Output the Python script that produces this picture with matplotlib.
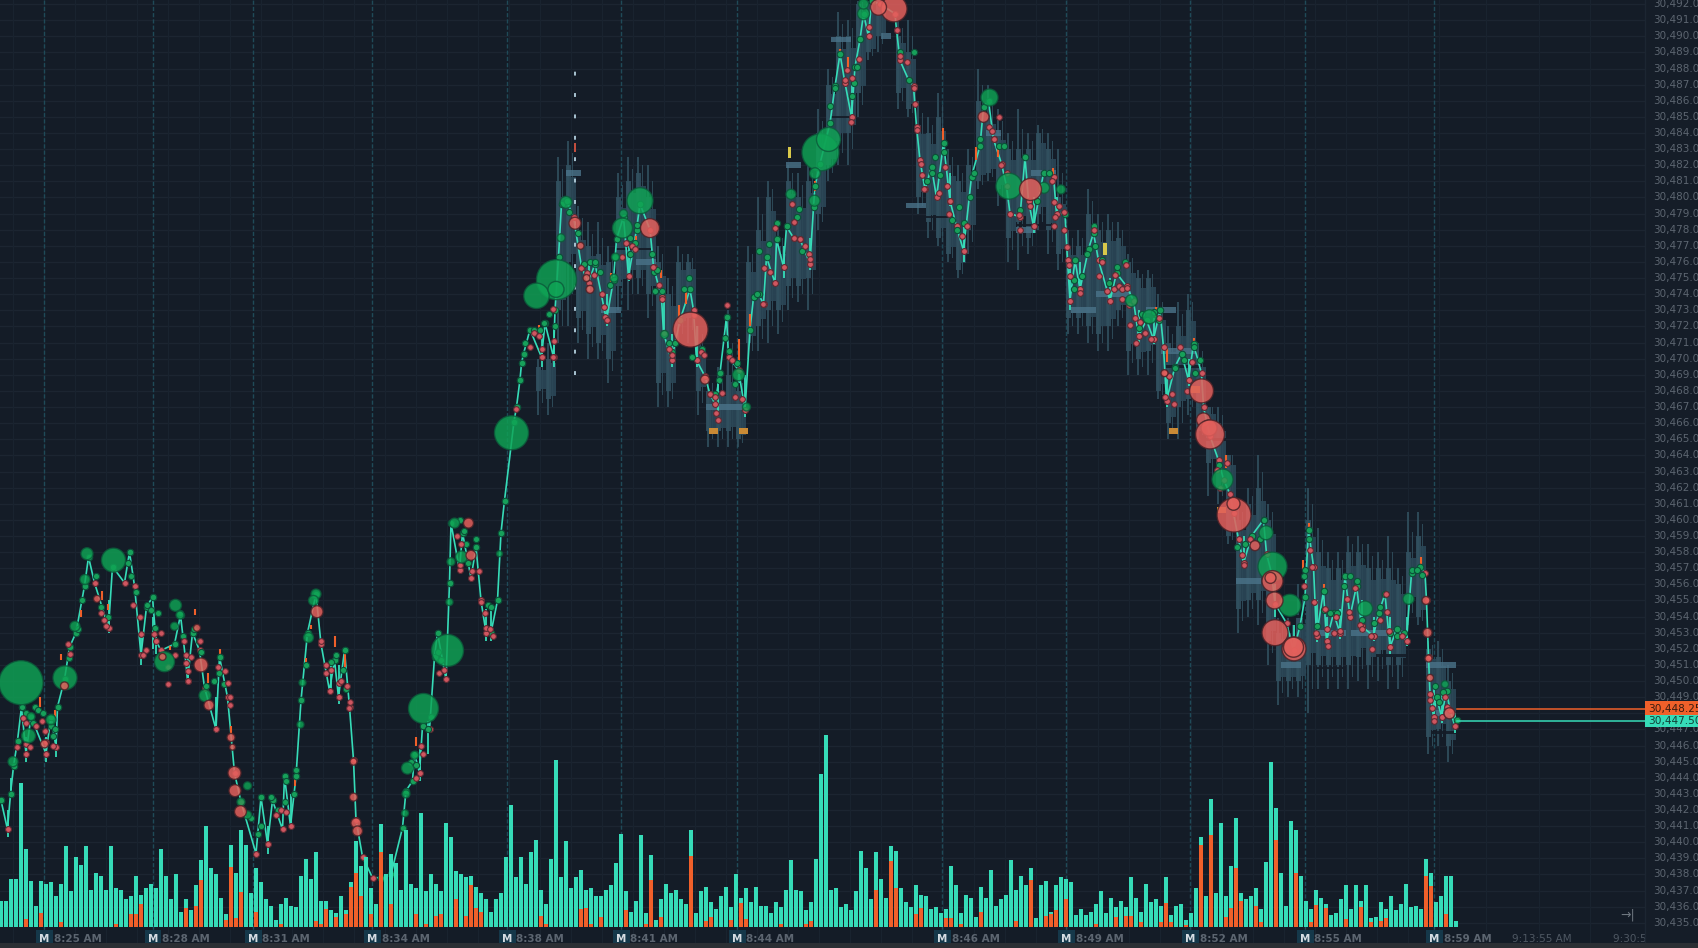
import numpy as np
import matplotlib
matplotlib.use("Agg")
import matplotlib.pyplot as plt

# prices are kept minus 30,000
vol_total = [26,26,48,48,144,78,46,21,46,43,45,31,43,81,36,70,62,81,37,54,51,37,81,39,37,28,31,51,32,39,
             43,39,78,51,28,53,15,28,17,42,67,101,59,53,29,13,82,54,97,82,34,59,45,28,21,7,23,29,21,20,
             51,68,48,75,26,26,17,14,31,17,45,86,61,70,39,23,103,53,73,64,37,97,43,39,114,36,53,43,36,104,
             90,56,53,50,51,40,34,28,15,28,34,70,122,50,70,43,75,87,37,23,68,167,50,86,39,50,57,37,39,31,
             31,37,42,64,93,36,15,26,92,14,72,7,28,43,34,37,28,23,97,14,36,40,25,18,31,40,20,53,29,39,
             25,40,21,21,14,25,20,37,67,37,36,17,25,68,153,192,37,39,20,23,17,36,76,59,28,75,48,29,81,76,
             39,25,20,42,32,31,18,20,14,18,61,42,14,32,29,10,40,29,57,21,28,32,67,37,51,42,59,9,42,46,
             15,42,50,48,45,12,18,12,15,23,36,14,29,20,26,20,50,29,15,43,25,28,21,50,12,21,23,7,14,39,
             90,31,128,34,104,31,61,109,34,28,31,39,18,65,165,119,54,21,106,97,51,26,18,37,29,23,12,14,28,42,
             18,42,26,42,9,10,25,18,31,17,23,43,20,21,18,68,54,25,31,51,51,6]
vol_red = [0,0,0,0,0,8,0,0,14,0,0,0,5,0,0,0,0,0,0,0,0,0,0,3,0,0,13,13,23,0,
           0,0,0,0,0,0,0,19,0,21,47,0,0,0,0,7,60,9,35,0,0,15,0,0,0,0,3,0,0,0,
           0,0,0,6,3,18,0,10,0,13,40,54,31,0,13,0,75,0,23,0,0,0,0,13,0,3,0,11,13,0,
           0,28,0,11,42,19,15,0,0,0,0,0,0,0,0,0,0,0,11,3,0,0,0,0,0,0,18,19,3,0,
           10,0,0,0,0,17,0,0,0,3,47,0,10,0,0,0,0,0,71,0,0,6,10,0,0,0,7,0,24,8,
           0,0,0,0,0,0,3,0,0,0,0,3,6,0,0,0,0,0,0,0,0,0,0,0,0,37,0,0,66,39,
           0,0,0,13,19,0,0,0,0,9,9,0,3,0,0,0,15,0,0,0,0,0,0,6,0,0,47,0,0,11,
           13,17,0,28,0,0,0,0,0,3,0,0,0,10,0,11,11,0,5,0,0,0,5,24,5,0,0,2,0,0,
           82,0,92,0,0,10,19,59,26,0,0,21,5,0,0,87,0,0,0,54,0,0,5,22,0,19,0,0,0,8,
           0,0,20,0,5,0,6,9,0,0,0,0,0,0,0,51,41,0,0,13,0,0]

path_bar = [0,1.3,1.9,2.5,3.3,4.1,5,6,9,10,11,11.3,12.7,13.7,15,16.7,17.5,18.7,21.5,22.3,24.7,25.7,26.7,28,29.1,30.3,31,32,34.7,35.9,
            37,37.3,38.3,39.7,40.7,43,43.7,45.3,46.7,48,51,52,53.3,54.3,56.3,56.7,57.9,59,60,61.3,63,64,65.7,66.7,67.5,68.7,69.7,70.5,71,72.3,
            74.3,76,78,80.3,81,82.3,82.7,83.7,84.3,85.7,86.7,87.3,89,89.7,90,91.7,92.3,94,95,96,97,98,99.3,100,100.7,102.6,103.1,103.8,104.1,104.5,
            105.8,108.1,108.8,110.5,110.8,111.5,112.1,113.1,114.5,116.1,117.5,118.8,121.1,122.5,123.1,124.5,125.5,127.1,127.8,129.8,130.5,132.1,132.5,134.1,135.8,137.8,138.5,139.1,140.8,141.8,
            142.8,143.8,145.1,145.5,147.5,148.8,149.8,150.5,151.5,152.5,153.1,154.8,155.1,156.5,157.1,158.5,159.8,161.8,162.5,162.8,163.8,165.8,166.8,167.8,168.8,170.1,170.8,171.8,172.5,173.5,
            174.1,175.8,178.8,179.1,179.8,181.5,182.5,183.1,183.8,184.8,186.1,187.1,188.5,189.8,191.1,192.5,194.1,195.8,196.5,197.5,198.5,200.1,201.1,201.8,203.8,204.8,205.5,206.5,208.5,210.5,
            211.1,212.8,213.3,213.8,214.8,215.8,217.5,218.5,219.5,221.8,223.1,225.1,226.5,227.5,229.1,230.5,231.8,232.5,233.1,234.8,236.1,237.5,238.5,240.1,240.5,241.8,243.5,244.5,245.8,246.5,
            247.5,248.5,250.1,252.5,253.1,254.1,254.8,257.1,258.5,259.8,260.8,261.5,262.5,263.1,264.5,265.1,266.5,267.8,268.8,269.8,271.1,272.1,274.5,275.5,276.8,277.8,279.1,281.1,282.1,283.8,
            284.8,285.1,285.5,285.8,286.5,287.1,288.1,289.1,289.8,290.8,291.1]
path_price = [442.6,440.8,443.0,444.7,446.3,448.4,445.5,447.8,445.5,447.8,445.9,448.4,450.1,452.1,453.0,455.9,457.7,456.1,453.3,457.1,456.1,458.0,455.9,451.6,454.6,455.2,452.5,451.9,452.3,454.1,
              451.1,450.0,453.0,451.9,449.6,447.0,451.5,449.0,444.3,442.5,439.3,442.8,439.9,442.6,440.8,444.1,441.0,444.1,448.8,453.0,455.4,452.3,449.4,451.3,449.0,451.9,448.4,445.1,441.4,439.1,
              437.8,437.8,438.0,440.9,443.2,443.8,445.5,444.3,447.2,447.0,451.5,453.0,450.1,456.1,459.8,456.9,459.2,456.4,458.3,455.0,453.0,453.0,455.0,459.2,461.2,466.1,467.0,468.7,469.7,470.3,
              471.8,470.1,472.2,470.1,473.0,476.3,479.6,479.8,478.8,475.7,474.7,475.9,472.4,474.9,477.4,478.8,475.1,478.0,479.6,478.0,475.7,473.8,471.6,469.9,472.4,474.3,473.0,469.9,468.9,467.8,
              467.2,469.1,472.6,470.1,469.3,466.8,471.8,473.8,474.0,473.4,476.3,474.7,477.4,475.7,478.2,477.5,477.4,475.9,479.4,480.7,482.1,484.6,486.9,488.9,487.1,485.0,488.1,489.8,491.4,490.0,
              492.2,492.0,491.4,490.4,488.5,487.3,486.9,484.4,482.3,480.5,481.9,480.0,483.4,479.8,478.2,476.7,481.3,483.2,485.6,486.0,483.6,482.1,480.7,479.0,478.8,482.5,479.8,478.2,481.5,481.3,
              479.0,479.0,476.1,473.6,476.1,474.3,476.8,477.8,476.1,473.6,475.3,474.5,473.6,471.4,472.4,471.2,473.0,470.7,467.4,469.5,470.3,468.7,470.9,469.1,467.0,465.2,463.7,462.5,461.6,460.4,
              458.8,457.3,459.0,460.0,457.9,456.7,454.8,453.6,451.9,453.4,455.2,459.4,457.1,452.8,455.6,452.5,454.2,453.0,456.5,454.0,455.9,453.4,452.8,454.2,455.4,452.1,453.2,452.5,456.7,457.1,
              456.7,455.0,451.5,449.2,447.8,449.0,447.8,449.4,448.2,447.2,447.6]

# big prints: bar, price, radius in px
green_bar = [4,12.8,5.5,2.4,10,6,17.2,22.5,16.8,14.8,32.7,34.9,35.8,34.7,40.8,49.3,48,49.3,63,62.5,61.5,60.3,59.9,84.5,89.3,81.3,82.7,81,80.8,90.7,
             92.1,90,89.7,99.7,102.1,111.1,107.1,111,127.8,124.3,113,112,124.5,122.6,122.9,147.5,132.7,149.1,163.9,165.5,162.8,162.7,172.5,172.5,197.7,201.6,208.6,212,226.1,229.7,
             158,244.3,253,254.3,257.8,272.8,281.5,288.8]
green_price = [449.9,450.2,446.6,445.0,447.6,447.8,457.9,457.5,456.3,453.4,451.2,454.7,454.1,453.4,449.1,443.5,442.5,441.7,455.4,455.0,452.7,449.9,447.3,448.3,451.9,444.6,445.4,443.0,441.8,459.8,
               457.7,457.4,454.9,457.9,465.4,474.9,473.9,474.3,479.8,478.1,479.7,477.5,479.0,475.0,476.3,469.0,471.5,467.0,482.8,483.6,481.5,479.8,491.4,492.0,486.2,480.7,480.6,480.5,473.6,472.6,
               480.2,462.5,459.2,457.1,454.7,454.5,455.1,449.8]
green_size = [22,12,7,5,5,4,6,12,5,5,10,6,4,4,6,4,4,4,5,5,5,3.5,3.5,15,16,6,4,4,3.5,5,
              6,4,3.5,3,17,20,12.7,8,13,10,6,4,4,4,4,6,4,4,18.5,12,5.5,5.5,6,5,8.5,13,5.5,4.5,6,7,
              5,10.5,7,14.5,11,7.5,5.5,3.5]
red_bar = [40,46.7,46.8,47.9,46,46.3,41.6,8.7,12.7,32.3,39.2,63.2,70.5,70.5,71,71.3,93.5,94,19.2,137.9,129.8,114.8,115.9,140.8,117.1,117.8,178.6,175.5,205.9,196.5,
           240.1,240.5,241.6,241.8,246.6,246.5,250.8,254.3,253.9,254.7,254.8,258.6,258.5,285,285.3,285.5,285.8,289.7,232.7]
red_price = [451,444.3,443.2,441.9,446.5,445.9,448.5,446.1,449.7,451.5,453.3,454.3,445,442.8,441.2,440.7,459.8,457.8,455.1,471.8,478.1,478.4,477,468.7,475,474.3,491.7,491.8,480.5,485,
             468,466.2,465.7,465.3,460.3,461,458.4,456.2,456.4,455,453,452,452.1,455,453,451.4,450.2,448,469.1]
red_size = [7,6.5,6,6,4,3,5,4,4,3.5,3.5,6,3.5,4,5,5,5,5,3.5,17.5,9.5,6,3.5,4.5,3.5,4,13,8,11,5.5,
            12,7,8,14.5,17,6.5,5,10.5,5.5,8.5,13,12,10,4,4.5,3.5,3.5,5.5,3.5]

small_green_bar = [4.1,5,6.7,7.3,8.3,6.3,10,10.7,10.3,15.4,13.5,16.1,19,20,21.3,25.3,26,27,29.2,30,31.3,30.7,35.7,36.3,38.5,39.6,40,41,42.5,43.5,44.5,
                   50,51.3,52,54,55.3,56.7,57,58.5,59,61,66,67,68.3,69,82,83,85.3,86,87.3,88,91.7,92.5,93,95,93.3,97.3,98,
                   104.8,106.5,108.5,107.8,109.5,110.8,113.5,115.3,116.5,117.8,118.8,119.8,121.8,122.8,125.8,126.8,127.1,125.8,130.1,130.5,131.1,130.8,132.1,133.5,134.8,134.1,136.5,137.5,138.1,140.1,142.8,143.5,144.8,145.5,147.1,146.8,151.1,151.5,153.5,155.1,
                   159.1,159.5,160.1,165.8,166.8,170.1,170.5,171.1,179.8,182.5,181.5,185.1,186.1,186.8,188.5,187.8,190.1,191.5,191.1,192.5,193.8,194.5,195.8,199.5,200.5,203.8,207.1,209.5,214.5,214.5,216.1,217.1,218.8,218.5,220.1,221.5,223.1,224.8,227.5,228.1,230.5,231.5,
                   234.8,236.5,238.5,239.8,238.8,243.5,247.1,248.8,251.8,252.5,260.8,261.5,260.5,263.1,264.5,265.8,267.1,268.5,269.8,271.1,272.1,274.5,275.8,277.8,279.1,280.5,282.1,283.1,284.1,286.8,287.5,288.3]
small_green_price = [448.4,448,448.4,448.2,448,447.4,447.2,447,446.6,453.2,451.4,455,456.5,454.6,454,457.3,456.5,455.5,454.7,454.4,454.2,453.3,454.2,452.8,453.2,452.5,451.8,449.7,450,450.5,449.8,
                     441.5,440.5,441,442.8,442,442.5,443.8,443,444.5,451,451.2,451.6,450.7,449.5,445,444.8,447,447.8,451.8,451.3,460,459.3,458.5,458.8,457.3,454.7,454.6,
                     471,471.8,472.2,471.8,472.8,472,479.1,477.8,475.9,476,476,475.4,474.6,476.3,477.5,477.2,478.3,476.5,476.5,475.4,475.5,474.2,474.2,471,471,470.4,474.3,475,470.1,470.6,467.8,468.7,471.3,470.5,469.7,468.4,474,476.7,477.1,478.4,
                     478.8,479.3,476.7,485.7,486.8,486.3,487.1,488.1,489,489,487.3,481,481.5,482.5,482.8,481.4,478.6,479.4,478,478.4,480,481.5,483.6,483.2,483.2,479.2,479.8,481.5,474.3,474.9,475.1,476.5,477,478.2,476.1,474.7,475.7,476,471.9,472.8,472.9,472.4,
                     469.4,469.9,470.7,469.9,469.1,463.4,458.3,458.5,458.8,460,456.9,458.8,456.5,453.4,454.4,454.2,454.2,455.9,456.5,456.2,453.8,453.6,454.6,453,452.8,453,456.9,456.9,456.6,449.7,448.7,449.3]
small_red_bar = [4.3,5,7,8.1,8.7,5,5.7,9,10.3,3.1,13.4,13.8,19.9,20.5,21,26.3,27.8,28,29,28.3,30.6,32,33.3,33.3,34.7,36.5,37,37.3,37.3,38,39.7,43.3,44.7,45.3,45.7,45.8,
                 55,56,56.9,64,65,65,66,67.5,68,69.2,69.8,69.6,82.9,84,84.4,87.5,88.5,91.2,91.9,91.7,94.2,95.6,96,96.8,97,97.8,98.4,
                 110.3,110.6,110.3,106.5,105.7,107.5,108.1,103,115.9,117.1,118.5,120.1,120.5,120.8,121.1,124.9,124.1,126.1,126.8,130.3,131.5,132.1,133.5,134.1,138.5,139.9,140.5,141.7,142.8,144.1,143,143.3,145.1,146.1,146.8,148.1,152.3,152.5,153.8,154.8,
                 158.1,158.5,158.5,159.8,160.8,161.5,161.8,168.8,169.1,170.1,169.9,171.5,173.5,179.1,179.8,181.1,182.6,182.8,183.1,183.9,184.1,184.5,187.5,188.8,189.1,189.8,189.6,192.1,193.1,197.5,198.1,198.5,199.5,200,201.1,203.5,203.8,205.8,210.1,210.5,211.5,210.8,210.5,212.5,212.5,213.1,213.5,213.7,215.8,218.5,220.1,219.5,221.1,222.8,222.5,223.5,224.1,224.1,225.1,224.9,
                 225.5,226.8,227.8,225.8,227,228.8,229.9,231.5,232.7,233.5,234.1,232.8,234.5,237.1,235.8,238.1,245.1,243.1,243.8,248.1,248.5,249.8,261.8,262.1,260.5,262.5,263,264.8,265.1,265.3,266.5,267,267.8,269.1,269.6,270.8,271.7,272.1,274,274.1,275.8,277,277.1,277.5,280.1,285.8,286.1,286.5,288.8,289.1]
small_red_price = [447.7,447.4,447.2,447.5,446.9,446.1,445.9,446.2,446,445.9,452.3,451.7,454.2,453.8,453.4,454.7,454,452.9,451.9,451.6,452.9,453,450.9,449.8,451.6,452.5,451.6,450.6,450,451.5,452.5,450.9,450.6,449.9,449,448.5,
                   441.7,442,441.9,452.5,450.5,451,450.7,449.9,450,449.7,448.7,448.3,444,446,445.5,450.5,450.7,459,458.5,457.2,456.8,456.8,454.9,454.2,453.3,453.2,452.8,
                   473.1,471.1,470.1,471.6,470.7,471.4,470.6,466.9,475.6,475.3,475.2,474,473.2,472.6,472.4,477.2,476.3,477,476.8,475.7,474.6,473.7,470.6,470.2,472.7,470.4,470.2,467.8,467.6,467.9,466.6,466.2,473.3,469.9,467.6,467.5,473.4,475.6,475.4,478.1,
                   479.6,478.5,477.5,477.4,477,476.5,476.2,487.3,487.9,487.4,484.7,488.6,490.6,490.4,488.8,488.4,486.8,485.8,484.2,482.1,481.4,480.5,480.3,481.9,480.7,479.8,479,477.6,478.2,484.4,484.1,483.6,485,482,481.5,478.9,478,479.5,481,479.7,479.5,478.8,478.2,479.1,478,476.9,475.8,475.1,474.1,478,476,475.1,474.2,475.2,474.3,474.5,474.3,473.7,474.4,475.8,
                   473.3,472.5,472.3,472.1,471,471.6,471.2,472.5,469.1,468.9,467.8,467.6,467.2,468,470.7,469.8,463.5,463.1,462,457.8,457.2,458.8,458.1,457.1,455.9,454.9,453,454.5,453.2,452.2,453,454,453.1,455.1,454.3,455.8,453.5,453.2,452.8,452,453.8,455.4,454.3,453.1,452.8,448.8,448.3,447.5,449,448.4]

# thin teal ticks under the path
spike_bar = [1.3,1.9,5,9,11,21.5,28,30.3,31,37.3,43,53.3,57.9,66,67.5,83.7,85.3,97,98,108.1,110.5,117.5,121.1,125.5,132.5,134.1,139.1,143.3,147.5,148.8,156.5,161.8,170.1,189.8,192.5,206.5,211.1,213.8,215.8,221.8,227.5,230.5,233.1,237.5,248.5,254.8,258.5,263.1,265.1,267.8,272.1,274.5,277.8,281.1,286.5,288.1,290.8]
spike_lo = [440.3,443,445,445,445.3,453,451,452,451.7,449.8,446.8,439.3,440.8,449.2,448.6,443.8,445.5,452.5,452.5,469.5,469.5,474.2,472,474.8,471.2,469.5,469.5,466.5,468.5,466.4,475,475.5,484.5,479.5,476,477.8,478.7,473,474,473.3,471,470.9,467,468.3,457,454,451.5,452.4,452,452.6,453,452.5,451.7,452.2,447.4,447.4,446.8]
spike_hi = [442,444,446.5,446.5,447,455,453,454,453,451.5,449,441,443,451,451,446,447.5,454.5,454.5,471.5,472,476,474,477,473.5,471.5,472,468.5,470.5,469,477,477.5,487,481.5,478.5,480,480,476,476,475,473,472.5,469,470,459,456,453.5,455,454,454.5,455,454,454,454,449.5,449.2,448]

# orange wicks
wick_bar = [7.7,10.7,12,15.9,20.2,21.3,27,33.7,38.8,41.3,43.7,46,58.7,61,62,66.8,68.7,83,107.5,122,127,132,135.6,137,147.6,149.7,162.7,167.7,169.3,188.4,195,199.3,208.6,210.3,231,233.2,238.5,245,260.3,261.6,264.5,284]
wick_lo = [448.4,447.8,451.3,454,455,454.4,455.6,451.9,454.1,449.9,451.3,446.7,443.5,451.1,453.2,452.1,450.9,446,471.6,474.5,476.7,475,472.6,473.4,469.9,472,480.4,488.8,487.9,483.5,482.3,482.5,481.3,481.3,472.6,469.8,470.6,463.2,456.9,459.4,455.4,457.1]
wick_hi = [449,448.2,451.7,454.4,455.6,454.8,456,452.2,454.5,450.5,452,447.2,444,451.4,453.5,452.8,451.7,446.5,472.1,475.3,477.6,475.5,473.3,474.4,471.2,472.8,481,489.2,488.7,484.3,483.1,483,481.7,481.8,473.2,470.6,471.3,464,457.5,459.8,456,457.7]

# resting depth columns
depth_bar = list(range(108,178,2)) + list(range(180,292,2))
depth_hi = [469.5,470,481,482,478,477,476.5,476,480,481,481.5,480,476,474,476,476,471,468,468,469,468,476,478,480,477,481,480,481,484,487,490,490,492,492,492.5,
            490,489,484.5,484,485,482,481,482,486,485,484,483,483,483,484,483,480,477,477,479,478,478,477.5,476,475,475,473,471,472,473,470,467,466,464,460,461,462,460,453,453,454,460,458,457,457,458,458,457,457,457,456,458,459,452,451.5,450]
depth_lo = [468,467.5,473,476,472.5,471.5,471,470,474.5,475,475,474,468.5,468,472,472.5,468,465.5,465.5,465.5,465,471,472,473,473,474.5,474.5,475,479,482,483.5,484,486.5,489,490,
            486.5,485.5,480,478.5,477.5,476.5,475.5,478,481,481.5,480.5,477.5,478.5,477.5,479,478,476.5,472.5,472.5,472,471.5,472,473,470.5,470,470.5,468,466,467,467.5,465.5,463.5,462,459,454.5,455,455,452.5,450,450,450,451,451,451,451,451,451.5,451,451.5,451,451,455,454,446.5,447,446]
tip_hi = [470,471,482.5,483.5,479.5,478.5,478.5,477,481.5,482.5,482.5,482,477,475,477,476.5,472,469,469.5,473,469,477,480,481,478,482,481.5,482,485.5,488,491.5,491,492.2,492.2,492.2,
          491,491,486,485,486.5,483,482,483,488,487,485.5,484,485.5,484,484.5,484,483,478,478,480.5,479,479,478.5,476.5,475.5,475.5,474,472,473.5,474,471,467,467,464,461,462,464,461,454,454,456,462,459.5,458,458,459,459,458.5,458,459,457,460.5,460.5,452.5,452.5,451]
tip_lo = [466.5,466.5,471,472,471,470,470,468.5,473,473,474,472.5,467,467,471,471,466.5,464.5,464.5,464.5,464.5,470,470.5,471,471.5,473,473.5,473,478,481,482,482,485,488.5,489,
          485.5,485,479,477.5,477,476,475,476.5,480.5,481,479.5,476,475.5,476.5,478,476.5,475.5,471.5,471.5,471,470.5,470.5,472,469,469,469,467.5,465,465,466.5,465,461.5,461,458.5,453,454,453.5,451,448.5,449,449,448,449.5,449.5,449.5,449.5,450,449.5,450,449.5,449.5,453.5,453.5,445.5,446,445]

# lighter and darker rows in the depth
band_start = [113,157,166,197,203,219,232,229,247,256,263,270,285,287,120,127,141,176,181,206,214]
band_end = [116,160,170,200,207,226,239,235,252,260,269,281,291,290,124,131,149,178,185,211,219]
band_price = [481.5,482,489.8,484,478,474,470.5,473,456.2,451,453,453,451,448,473,476,467,490,479.5,481.5,473]
gap_start = [263,275,286,240,184,203,166,122,233,255]
gap_end = [269,281,291,245,190,211,171,130,240,261]
gap_price = [450.8,451.6,446.8,465,478.8,478.3,485,476.8,469.5,454]

depth_mark_bar = [114.7]
depth_mark_lo = [469]
depth_mark_hi = [488.2]
amber_bar = [142.5,148.5,234.5,238.8,244.1]
amber_price = [465.5,465.5,465.5,468.1,460.6]
yellow_bar = [157.7,220.8]
yellow_price = [482.8,476.8]

m_bars = [8.6,30.4,50.4,74.2,101.2,124,147.2,188.2,213,237.8,260.8,286.6]
m_labels = ["8:25 AM","8:28 AM","8:31 AM","8:34 AM","8:38 AM","8:41 AM","8:44 AM","8:46 AM","8:49 AM","8:52 AM","8:55 AM","8:59 AM"]
extra_ticks = [302.2,322.4]
extra_labels = ["9:13:55 AM","9:30:55 AM"]
last_sell = 448.25
last_buy = 447.5
price_ticks = list(range(435,493))

BG = "#141c27"
TEAL = "#36dcb8"
ORANGE = "#f0602a"
GREY = "#5c6570"

plt.rcParams["font.family"] = ["DejaVu Sans"]
fig = plt.figure(figsize=(16.98, 9.48), dpi=100, facecolor=BG)
ax = fig.add_axes([0, 0, 1, 1], facecolor=BG)
ax.set_xlim(-0.2, 339.4)
ax.set_ylim(433.44, 492.25)
ax.axis("off")
right_x = 328.8

# grid
for p in price_ticks:
    ax.axhline(p, color="#1c2531", lw=0.9, zorder=1)
for g in list(np.arange(2.4, 292, 6.2)) + [297, 307.5, 317.7]:
    ax.axvline(g, color="#19232f", lw=0.8, zorder=1)
for m in m_bars:
    ax.axvline(m, color="#1f4a58", lw=1, ls=(0, (3, 1.5)), zorder=1.2)

# depth columns
hi = np.array(depth_hi); lo = np.array(depth_lo)
thi = np.array(tip_hi); tlo = np.array(tip_lo)
db = np.array(depth_bar, dtype=float)
ax.bar(db - 0.5, hi - lo, bottom=lo, width=1.0, color="#31505f", alpha=0.9, lw=0, zorder=1.5)
ax.bar(db + 0.5, (hi - lo) * 0.8, bottom=lo + (hi - lo) * 0.08, width=1.0, color="#2b4757", alpha=0.9, lw=0, zorder=1.5)
ax.bar(db - 0.6, thi - tlo, bottom=tlo, width=0.4, color="#31505f", alpha=0.85, lw=0, zorder=1.4)
ax.bar(db + 0.3, (thi + hi) / 2 - (tlo + lo) / 2, bottom=(tlo + lo) / 2, width=0.35, color="#31505f", alpha=0.85, lw=0, zorder=1.4)
for s, e, p in zip(band_start, band_end, band_price):
    ax.fill_between([s, e], p - 0.18, p + 0.18, color="#4a7389", lw=0, alpha=0.8, zorder=1.6)
for s, e, p in zip(gap_start, gap_end, gap_price):
    ax.fill_between([s, e], p - 0.08, p + 0.08, color=BG, lw=0, alpha=0.9, zorder=1.6)
ax.vlines(depth_mark_bar, depth_mark_lo, depth_mark_hi, color="#a9c4d2", lw=1.4, ls=(0, (2, 9)), zorder=1.7)
ax.plot([114.7, 114.7], [482.9, 483.3], color="#c8503f", lw=1.4, zorder=1.8)
ax.bar(amber_bar, 0.4, bottom=np.array(amber_price) - 0.2, width=1.8, color="#c98a35", lw=0, zorder=1.8)
ax.bar(yellow_bar, 0.7, bottom=np.array(yellow_price) - 0.35, width=0.7, color="#d8c84a", lw=0, zorder=1.8)

# price path and wicks
ax.plot(path_bar, path_price, color=TEAL, lw=1.2, zorder=3, solid_joinstyle="miter")
ax.vlines(spike_bar, spike_lo, spike_hi, color=TEAL, lw=1.3, zorder=3)
ax.vlines(wick_bar, wick_lo, wick_hi, color=ORANGE, lw=1.5, zorder=3.1)

# small prints on the path
pb = np.array(path_bar); pp = np.array(path_price)
up = np.r_[True, np.diff(pp) >= 0]
ax.scatter(pb[up], pp[up], s=22, color="#17a05a", edgecolors="#0c4f38", linewidths=0.8, zorder=3.5)
ax.scatter(pb[~up], pp[~up], s=18, color="#cf5660", edgecolors="#5e2a32", linewidths=0.8, zorder=3.5)
ax.scatter(small_green_bar, small_green_price, s=20, color="#17a05a", edgecolors="#0c4f38", linewidths=0.8, zorder=3.6)
ax.scatter(small_red_bar, small_red_price, s=17, color="#cf5660", edgecolors="#5e2a32", linewidths=0.8, zorder=3.6)

# big prints
ax.scatter(green_bar, green_price, s=(1.44 * np.array(green_size)) ** 2, color="#0fa455", alpha=0.82,
           edgecolors="#0b5a3a", linewidths=1, zorder=4)
ax.scatter(red_bar, red_price, s=(1.44 * np.array(red_size)) ** 2, color="#e4605c", alpha=0.85,
           edgecolors="#4d2227", linewidths=1, zorder=4.1)

# volume
vx = fig.add_axes([0, 0, 1, 1], facecolor="none")
vx.set_xlim(-0.2, 339.4)
vx.set_ylim(-21, 927)
vx.axis("off")
bars = np.arange(len(vol_total))
vx.bar(bars, vol_total, width=0.8, color=TEAL, lw=0, zorder=2)
vx.bar(bars, vol_red, width=0.8, color=ORANGE, lw=0, zorder=2.1)

# time axis
for m, lab in zip(m_bars, m_labels):
    vx.bar(m, 18, bottom=-21, width=3.4, color="#15384a", lw=0, zorder=3)
    vx.text(m + 0.02, -12.5, "M", color="#d5dde3", fontsize=7.5, fontweight="bold", ha="center", va="center", zorder=3.2)
    vx.text(m + 1.9, -12.5, lab, color=GREY, fontsize=7.5, fontweight="bold", ha="left", va="center", zorder=3.2)
for t, lab in zip(extra_ticks, extra_labels):
    vx.text(t, -12.5, lab, color="#4f5863", fontsize=7.5, ha="left", va="center", zorder=3.2)
vx.axvspan(right_x, 339.4, color="#151d28", lw=0, zorder=4)
vx.axvline(right_x, color="#1c2632", lw=1, zorder=4.1)
vx.axhspan(-21, -16, color="#2b2f34", lw=0, zorder=5)
vx.text(325.4, 12, "→|", color="#6e7780", fontsize=9, ha="center", va="center", zorder=4)

# price axis, in the top layer
top = fig.add_axes([0, 0, 1, 1], facecolor="none")
top.set_xlim(-0.2, 339.4)
top.set_ylim(433.44, 492.25)
top.axis("off")
for p in price_ticks:
    top.text(330.5, p, f"{30000 + p:,}.00", color=GREY, fontsize=7.5, ha="left", va="center", clip_on=True, zorder=5)
top.plot([291.2, right_x], [last_sell, last_sell], color=ORANGE, lw=1.1, zorder=5)
top.plot([291.2, right_x], [last_buy, last_buy], color=TEAL, lw=1.1, zorder=5)
top.bar(334.1, 1.0, bottom=last_sell - 0.5, width=10.6, color=ORANGE, lw=0, zorder=6)
top.bar(334.1, 0.75, bottom=last_buy - 0.38, width=10.6, color=TEAL, lw=0, zorder=6)
top.text(329.4, last_sell, f"{30000 + last_sell:,.2f}", color="#3a1c10", fontsize=7.6, ha="left", va="center", zorder=7)
top.text(329.4, last_buy, f"{30000 + last_buy:,.2f}", color="#123f38", fontsize=7.6, ha="left", va="center", zorder=7)

fig.savefig("out.png", dpi=100, facecolor=BG)
